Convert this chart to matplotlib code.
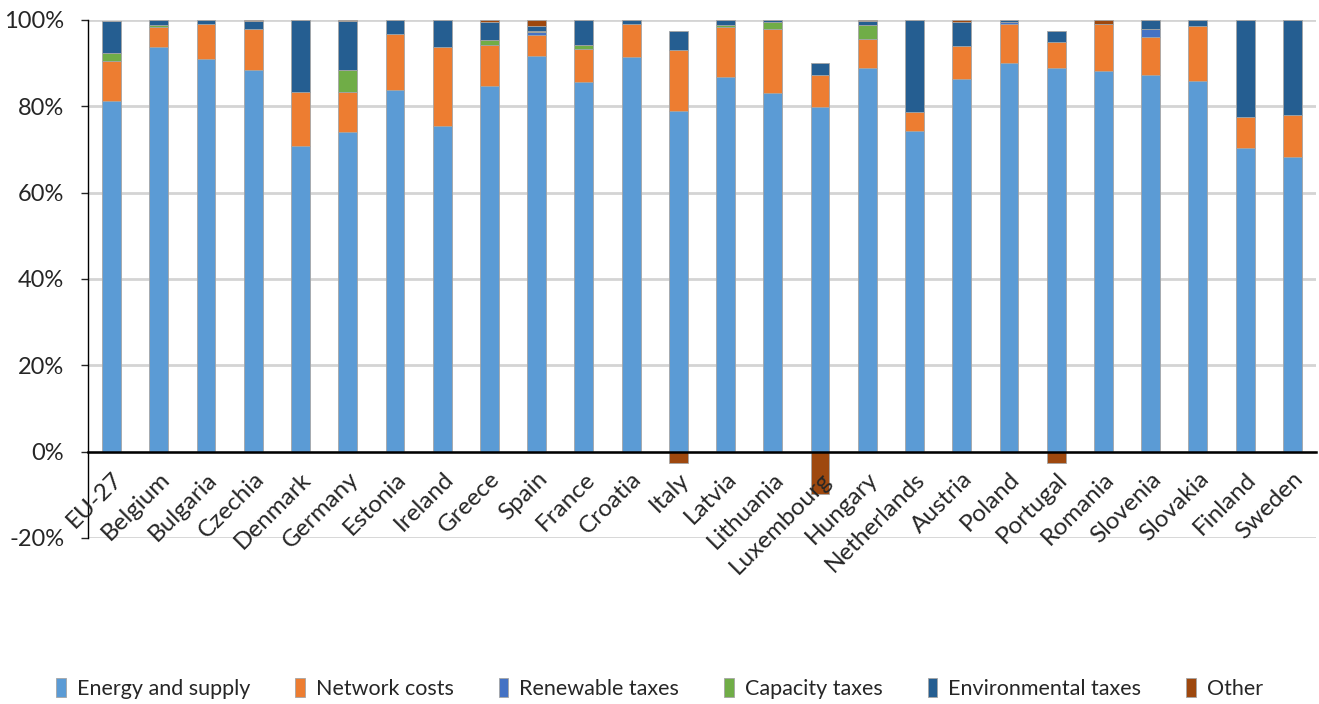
import matplotlib.pyplot as plt
import numpy as np

plt.rcParams['font.family'] = ['Lato', 'DejaVu Sans']

countries = ['EU-27', 'Belgium', 'Bulgaria', 'Czechia', 'Denmark', 'Germany', 'Estonia',
             'Ireland', 'Greece', 'Spain', 'France', 'Croatia', 'Italy', 'Latvia',
             'Lithuania', 'Luxembourg', 'Hungary', 'Netherlands', 'Austria', 'Poland',
             'Portugal', 'Romania', 'Slovenia', 'Slovakia', 'Finland', 'Sweden']

# shares of the electricity price, in %
energy = [81.2, 93.7, 91.0, 88.5, 70.9, 74.1, 83.8, 75.5, 84.8, 91.7, 85.6, 91.4, 78.9,
          86.7, 83.0, 79.8, 88.8, 74.4, 86.3, 90.0, 88.8, 88.2, 87.3, 85.9, 70.4, 68.3]
network = [9.3, 4.6, 8.1, 9.4, 12.4, 9.2, 13.0, 18.2, 9.4, 4.8, 7.7, 7.7, 14.2,
           11.6, 15.0, 7.5, 6.8, 4.3, 7.7, 9.1, 6.0, 10.9, 8.7, 12.7, 7.1, 9.8]
renewable = [0, 0, 0, 0, 0, 0, 0, 0, 0, 0.7, 0, 0, 0,
             0, 0, 0, 0, 0, 0, 0.5, 0, 0, 2.0, 0, 0, 0]
capacity = [1.8, 0.5, 0, 0, 0, 5.0, 0, 0, 1.2, 0.3, 0.8, 0, 0,
            0.5, 1.5, 0, 3.2, 0, 0, 0, 0, 0, 0, 0, 0, 0]
environmental = [7.5, 1.2, 0.9, 1.8, 16.7, 11.4, 3.2, 6.3, 4.1, 1.1, 5.9, 0.9, 4.4,
                 1.2, 0.5, 2.7, 1.0, 21.3, 5.5, 0.4, 2.7, 0, 2.0, 1.4, 22.5, 21.9]
other = [0, 0, 0, 0.3, 0, 0.3, 0, 0, 0.5, 1.4, 0, 0, -2.6,
         0, 0, -9.8, 0.2, 0, 0.5, 0, -2.6, 0.9, 0, 0, 0, 0]

series = [
    ('Energy and supply', energy, '#5B9BD5'),
    ('Network costs', network, '#ED7D31'),
    ('Renewable taxes', renewable, '#4472C4'),
    ('Capacity taxes', capacity, '#70AD47'),
    ('Environmental taxes', environmental, '#255E91'),
    ('Other', other, '#9E480E'),
]

fig = plt.figure(figsize=(13.19, 7.04), dpi=100)
ax = fig.add_axes([0.0667, 0.2358, 0.931, 0.7358])

x = np.arange(len(countries))
pos = np.zeros(len(countries))
neg = np.zeros(len(countries))
for name, vals, col in series:
    v = np.array(vals, dtype=float)
    bottom = np.where(v >= 0, pos, neg)
    ax.bar(x, v, 0.4, bottom=bottom, color=col, label=name,
           edgecolor='#A5A5A5', linewidth=0.6, zorder=3)
    pos += np.where(v >= 0, v, 0)
    neg += np.where(v < 0, v, 0)

ax.set_xlim(-0.5, len(countries) - 0.5)
ax.set_ylim(-20, 100)
ax.set_yticks(np.arange(-20, 101, 20))
ax.set_yticklabels([f'{t}%' for t in range(-20, 101, 20)], fontsize=17, color='#262626')
ax.yaxis.grid(True, color='#D4D4D4', linewidth=2)
ax.tick_params(axis='y', length=5, width=1, color='#262626', pad=12)

# grid behind the bars, category labels on top of them
ax.yaxis.set_zorder(0.5)
ax.xaxis.set_zorder(5)

ax.spines['bottom'].set_position(('data', 0))
ax.spines['bottom'].set_color('black')
ax.spines['bottom'].set_linewidth(1.8)
ax.spines['bottom'].set_zorder(4)
ax.spines['left'].set_color('black')
ax.spines['left'].set_linewidth(1)
ax.spines['top'].set_visible(False)
ax.spines['right'].set_visible(False)

ax.set_xticks(x)
ax.set_xticklabels(countries, rotation=45, ha='right', va='top', rotation_mode='anchor',
                   fontsize=17.5, color='#262626')
ax.tick_params(axis='x', length=0, pad=12)

fig.legend(loc='center', bbox_to_anchor=(0.5, 0.022), ncol=6, frameon=False,
           fontsize=15.5, handlelength=0.45, handleheight=1.0, handletextpad=0.5,
           columnspacing=2.1, labelcolor='#262626')

fig.savefig('out.png', dpi=100)
